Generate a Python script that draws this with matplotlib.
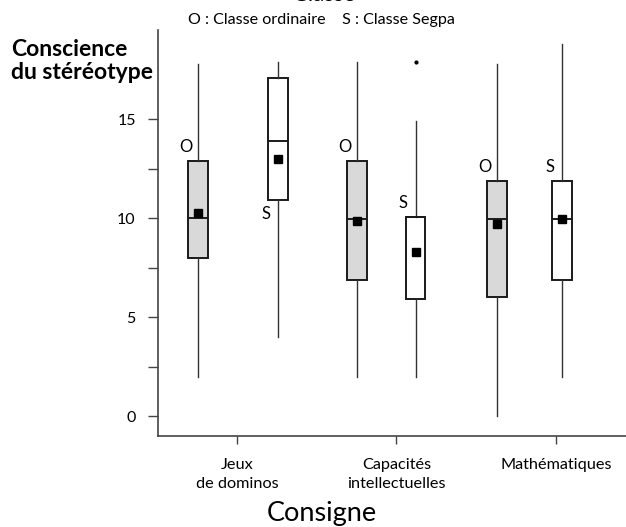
import matplotlib
matplotlib.use("Agg")
import matplotlib.pyplot as plt
from matplotlib.ticker import FixedLocator

plt.rcParams['font.family'] = ['Lato', 'DejaVu Sans']

categories = ["Jeux\nde dominos", "Capacités\nintellectuelles", "Mathématiques"]
cat_pos = [1, 2, 3]
groups = ["O", "S", "O", "S", "O", "S"]
box_pos = [0.755, 1.255, 1.755, 2.12, 2.63, 3.04]
whislo = [2, 4, 2, 2, 0, 2]
q1 = [8, 10.9, 6.9, 5.9, 6, 6.9]
med = [10, 13.9, 9.95, 10.05, 9.95, 9.95]
q3 = [12.9, 17.1, 12.9, 10.05, 11.9, 11.9]
whishi = [17.8, 17.9, 17.9, 14.9, 17.8, 18.8]
means = [10.25, 13.0, 9.85, 8.3, 9.7, 9.95]
fliers = [[], [], [], [17.9], [], []]
label_side = ["top", "bottom", "top", "top", "top", "top"]
y_major = [0, 5, 10, 15]
y_minor = [2.5, 7.5, 12.5]
fills = {"O": "#d9d9d9", "S": "white"}

fig = plt.figure(figsize=(6.26, 5.27), dpi=100)
ax = fig.add_axes([158/626, 91/527, 468/626, 406/527])

stats = []
for i in range(len(groups)):
    stats.append(dict(whislo=whislo[i], q1=q1[i], med=med[i], q3=q3[i],
                      whishi=whishi[i], mean=means[i], fliers=fliers[i]))

bp = ax.bxp(stats, positions=box_pos, widths=0.125, showcaps=False,
            showmeans=True, patch_artist=True,
            boxprops=dict(edgecolor="#1a1a1a", linewidth=1.4),
            whiskerprops=dict(color="#333333", linewidth=1.0),
            medianprops=dict(color="#1a1a1a", linewidth=1.4),
            meanprops=dict(marker="s", markerfacecolor="black",
                           markeredgecolor="black", markersize=5.5),
            flierprops=dict(marker="o", markerfacecolor="black",
                            markeredgecolor="black", markersize=2))
for patch, g in zip(bp["boxes"], groups):
    patch.set_facecolor(fills[g])

for i, g in enumerate(groups):
    xl = box_pos[i] - 0.0625
    if label_side[i] == "top":
        ax.annotate(g, (xl, q3[i]), xytext=(-1.5, 10), textcoords="offset points",
                    ha="center", va="center", fontsize=12)
    else:
        ax.annotate(g, (xl, q1[i]), xytext=(-1.5, -10), textcoords="offset points",
                    ha="center", va="center", fontsize=12)

ax.set_xlim(0.505, 3.44)
ax.set_ylim(-1.0, 19.5)
ax.set_xticks(cat_pos)
ax.set_xticklabels(categories, fontsize=11.7, linespacing=1.4)
ax.set_yticks(y_major)
ax.yaxis.set_minor_locator(FixedLocator(y_minor))
ax.tick_params(axis="y", which="both", length=7, width=1, color="#444444", pad=9, labelsize=11.5)
ax.tick_params(axis="x", length=6, width=1, color="#444444", pad=10)
for s in ["top", "right"]:
    ax.spines[s].set_visible(False)
for s in ["left", "bottom"]:
    ax.spines[s].set_color("#444444")
    ax.spines[s].set_linewidth(1.2)

fig.text(11/626, 1 - 61/527, "Conscience\ndu stéréotype", fontsize=16.5, fontweight="bold",
         ha="left", va="center", linespacing=1.12)
fig.text(321/626, 1 - 20/527, "O : Classe ordinaire    S : Classe Segpa", fontsize=11.6,
         ha="center", va="center")
fig.text(324/626, 1 - 1/527, "Classe", fontsize=16, ha="center", va="baseline")
fig.text(322/626, 1 - 514/527, "Consigne", fontsize=19.5, ha="center", va="center")

fig.savefig("out.png", dpi=100)
